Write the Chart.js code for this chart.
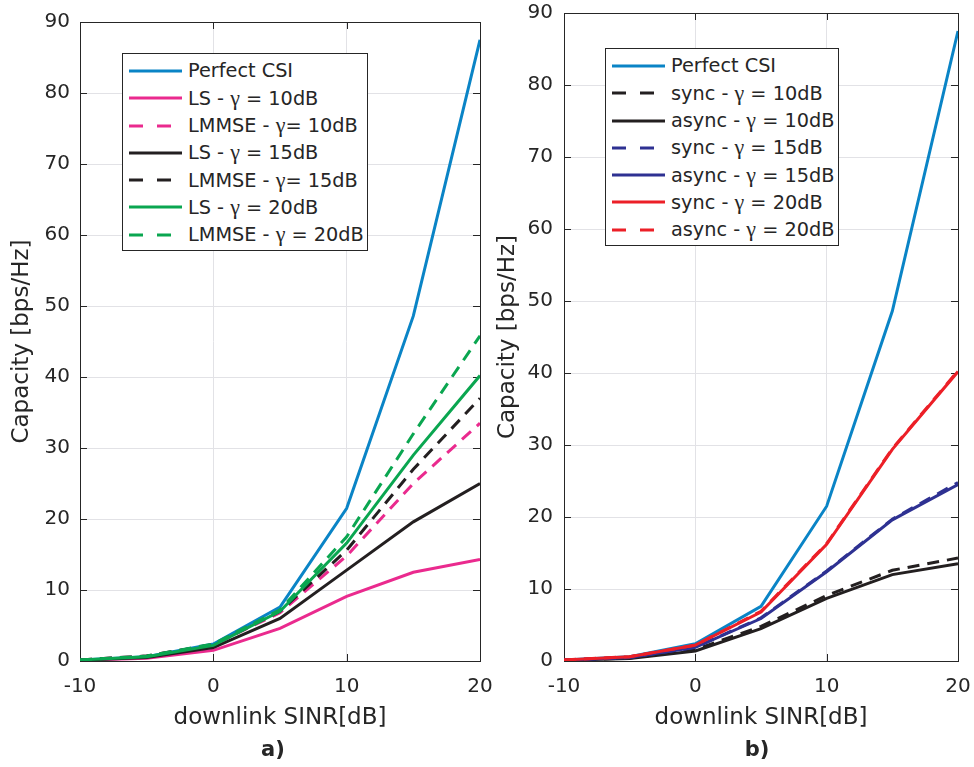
<!DOCTYPE html>
<html>
<head>
<meta charset="utf-8">
<title>Capacity vs downlink SINR</title>
<script src="https://cdn.jsdelivr.net/npm/chart.js@4.4.0/dist/chart.umd.min.js"></script>
<style>
  html, body { margin: 0; padding: 0; background: #fff; }
  #page { position: relative; width: 974px; height: 767px; overflow: hidden;
          font-family: "DejaVu Sans", sans-serif; color: #262626; }
  canvas { position: absolute; top: -20px; }
  .legend { position: absolute; border: 1px solid #262626; background: #fff; box-sizing: border-box; }
  .row { position: absolute; left: 0; height: 28px; display: flex; align-items: center;
         white-space: pre; font-size: 19.3px; line-height: 28px; }
  .row svg { display: block; margin-right: 6px; }
  .gamma { font-family: "Liberation Serif", "DejaVu Serif", serif; font-size: 22px; }
  .caption { position: absolute; font-weight: bold; font-size: 21px; line-height: 24px;
             transform: translateX(-50%); white-space: nowrap; }
</style>
</head>
<body>
<div id="page">
  <canvas id="chartA" width="510" height="787" style="left:0px"></canvas>
  <canvas id="chartB" width="501" height="787" style="left:487px"></canvas>
  <div id="legendA" class="legend" style="left:122px;top:53px;width:246px;height:198px"></div>
  <div id="legendB" class="legend" style="left:605px;top:48px;width:234px;height:198px"></div>
  <div class="caption" style="left:273px;top:737px">a)</div>
  <div class="caption" style="left:757px;top:737px">b)</div>
</div>
<script>
// x: downlink SINR in dB, y: capacity in bps/Hz
const sinrDb = [-10, -5, 0, 5, 10, 15, 20];
const sinrTicks = [-10, 0, 10, 20];
const capacityTicks = [0, 10, 20, 30, 40, 50, 60, 70, 80, 90];

// panel a) channel estimation
const perfectCsi   = [0.15, 0.6, 2.4, 7.6, 21.5, 48.6, 87.5];
const lsGamma10    = [0.10, 0.4, 1.5, 4.6, 9.1, 12.5, 14.3];
const lmmseGamma10 = [0.15, 0.7, 2.3, 6.8, 14.8, 25.0, 33.5];
const lsGamma15    = [0.12, 0.5, 1.9, 6.0, 12.8, 19.6, 25.0];
const lmmseGamma15 = [0.15, 0.7, 2.3, 7.0, 15.6, 27.0, 37.0];
const lsGamma20    = [0.15, 0.6, 2.2, 7.0, 16.6, 29.0, 40.2];
const lmmseGamma20 = [0.15, 0.7, 2.4, 7.2, 17.5, 32.0, 45.8];
const labelsA = [
  'Perfect CSI',
  'LS - γ = 10dB',
  'LMMSE - γ= 10dB',
  'LS - γ = 15dB',
  'LMMSE - γ= 15dB',
  'LS - γ = 20dB',
  'LMMSE - γ = 20dB'
];

// panel b) synchronous vs asynchronous
const syncGamma10  = [0.10, 0.4, 1.6, 4.8, 9.1, 12.6, 14.3];
const asyncGamma10 = [0.10, 0.35, 1.4, 4.5, 8.7, 12.0, 13.5];
const syncGamma15  = [0.12, 0.5, 1.9, 6.0, 12.5, 19.7, 24.8];
const asyncGamma15 = [0.12, 0.5, 1.9, 5.9, 12.4, 19.6, 24.5];
const syncGamma20  = [0.15, 0.6, 2.2, 6.8, 16.2, 29.4, 40.2];
const asyncGamma20 = [0.15, 0.6, 2.2, 6.9, 16.3, 29.5, 40.3];
const labelsB = [
  'Perfect CSI',
  'sync - γ = 10dB',
  'async - γ = 10dB',
  'sync - γ = 15dB',
  'async - γ = 15dB',
  'sync - γ = 20dB',
  'async - γ = 20dB'
];

const xTitle = 'downlink SINR[dB]';
const yTitle = 'Capacity [bps/Hz]';

// line styles
const C = {
  blue: '#0a84c6', pink: '#ea2a8e', black: '#231f20',
  green: '#0aa650', navy: '#2e3192', red: '#ec1f27'
};
const INK = '#262626';
const GRID = '#e2e2e6';

const seriesA = [
  { label: labelsA[0], values: perfectCsi,   color: C.blue,  dashed: false },
  { label: labelsA[1], values: lsGamma10,    color: C.pink,  dashed: false },
  { label: labelsA[2], values: lmmseGamma10, color: C.pink,  dashed: true },
  { label: labelsA[3], values: lsGamma15,    color: C.black, dashed: false },
  { label: labelsA[4], values: lmmseGamma15, color: C.black, dashed: true },
  { label: labelsA[5], values: lsGamma20,    color: C.green, dashed: false },
  { label: labelsA[6], values: lmmseGamma20, color: C.green, dashed: true }
];
const seriesB = [
  { label: labelsB[0], values: perfectCsi,   color: C.blue,  dashed: false },
  { label: labelsB[1], values: syncGamma10,  color: C.black, dashed: true },
  { label: labelsB[2], values: asyncGamma10, color: C.black, dashed: false },
  { label: labelsB[3], values: syncGamma15,  color: C.navy,  dashed: true },
  { label: labelsB[4], values: asyncGamma15, color: C.navy,  dashed: false },
  { label: labelsB[5], values: syncGamma20,  color: C.red,   dashed: false },
  { label: labelsB[6], values: asyncGamma20, color: C.red,   dashed: true }
];

Chart.defaults.font.family = '"DejaVu Sans", sans-serif';
Chart.defaults.color = INK;

// full box around the plot area with inward tick marks on all four sides
const axesBox = {
  id: 'axesBox',
  beforeDatasetsDraw(chart) {
    const { ctx, chartArea: a, scales: { x, y } } = chart;
    const len = 7;
    ctx.save();
    ctx.strokeStyle = INK;
    ctx.lineWidth = 1;
    ctx.beginPath();
    x.ticks.forEach(t => {
      const px = Math.round(x.getPixelForValue(t.value)) + 0.5;
      ctx.moveTo(px, a.bottom); ctx.lineTo(px, a.bottom - len);
      ctx.moveTo(px, a.top); ctx.lineTo(px, a.top + len);
    });
    y.ticks.forEach(t => {
      const py = Math.round(y.getPixelForValue(t.value)) + 0.5;
      ctx.moveTo(a.left, py); ctx.lineTo(a.left + len, py);
      ctx.moveTo(a.right, py); ctx.lineTo(a.right - len, py);
    });
    ctx.stroke();
    ctx.strokeRect(Math.round(a.left) + 0.5, Math.round(a.top) + 0.5,
                   Math.round(a.right - a.left), Math.round(a.bottom - a.top));
    ctx.restore();
  }
};

// canvases sit 20px above the page top, so plot-area tops are offset by 20
function makeChart(id, series, geo) {
  const n = series.length;
  const datasets = series.map((s, i) => ({
    label: s.label,
    data: sinrDb.map((v, k) => ({ x: v, y: s.values[k] })),
    borderColor: s.color,
    backgroundColor: s.color,
    borderWidth: 3,
    borderDash: s.dashed ? [12, 8] : [],
    pointRadius: 0,
    tension: 0,
    fill: false,
    order: n - 1 - i
  }));
  return new Chart(document.getElementById(id), {
    type: 'line',
    data: { datasets },
    plugins: [axesBox],
    options: {
      responsive: false,
      animation: false,
      devicePixelRatio: 1,
      layout: { padding: { left: 0, top: geo.top + 20, right: geo.right, bottom: 35 } },
      plugins: { legend: { display: false }, tooltip: { enabled: false } },
      scales: {
        x: {
          type: 'linear', min: -10, max: 20,
          afterBuildTicks: s => { s.ticks = sinrTicks.map(v => ({ value: v })); },
          afterFit: s => { s.height = 71; },
          grid: { color: GRID, lineWidth: 1, drawTicks: false },
          border: { display: false },
          ticks: { font: { size: 20 }, color: INK, padding: 14, maxRotation: 0 },
          title: { display: true, text: xTitle, font: { size: 23 }, color: INK,
                   padding: { top: 0, bottom: 0 } }
        },
        y: {
          type: 'linear', min: 0, max: 90,
          afterBuildTicks: s => { s.ticks = capacityTicks.map(v => ({ value: v })); },
          afterFit: s => { s.width = geo.left; },
          grid: { color: GRID, lineWidth: 1, drawTicks: false },
          border: { display: false },
          ticks: { font: { size: 20 }, color: INK, padding: geo.tickPad },
          title: { display: true, text: yTitle, font: { size: 23 }, color: INK,
                   padding: { top: geo.titlePad, bottom: 0 } }
        }
      }
    }
  });
}

function buildLegend(id, series) {
  const box = document.getElementById(id);
  series.forEach((s, i) => {
    const row = document.createElement('div');
    row.className = 'row';
    row.style.top = (3 + i * 27.25) + 'px';
    row.style.left = '6px';
    const ns = 'http://www.w3.org/2000/svg';
    const svg = document.createElementNS(ns, 'svg');
    svg.setAttribute('width', '53');
    svg.setAttribute('height', '28');
    const ln = document.createElementNS(ns, 'line');
    ln.setAttribute('x1', '0'); ln.setAttribute('x2', '53');
    ln.setAttribute('y1', '14'); ln.setAttribute('y2', '14');
    ln.setAttribute('stroke', s.color);
    ln.setAttribute('stroke-width', '3');
    if (s.dashed) ln.setAttribute('stroke-dasharray', '14 14');
    svg.appendChild(ln);
    row.appendChild(svg);
    const parts = s.label.split('γ');
    const t = document.createElement('span');
    t.appendChild(document.createTextNode(parts[0]));
    if (parts.length > 1) {
      const g = document.createElement('span');
      g.className = 'gamma';
      g.textContent = 'γ';
      t.appendChild(g);
      t.appendChild(document.createTextNode(parts[1]));
    }
    row.appendChild(t);
    box.appendChild(row);
  });
}

makeChart('chartA', seriesA, { top: 22, right: 30, left: 80, tickPad: 10, titlePad: 8 });
makeChart('chartB', seriesB, { top: 13, right: 30, left: 77, tickPad: 11, titlePad: 7 });
buildLegend('legendA', seriesA);
buildLegend('legendB', seriesB);
</script>
</body>
</html>
